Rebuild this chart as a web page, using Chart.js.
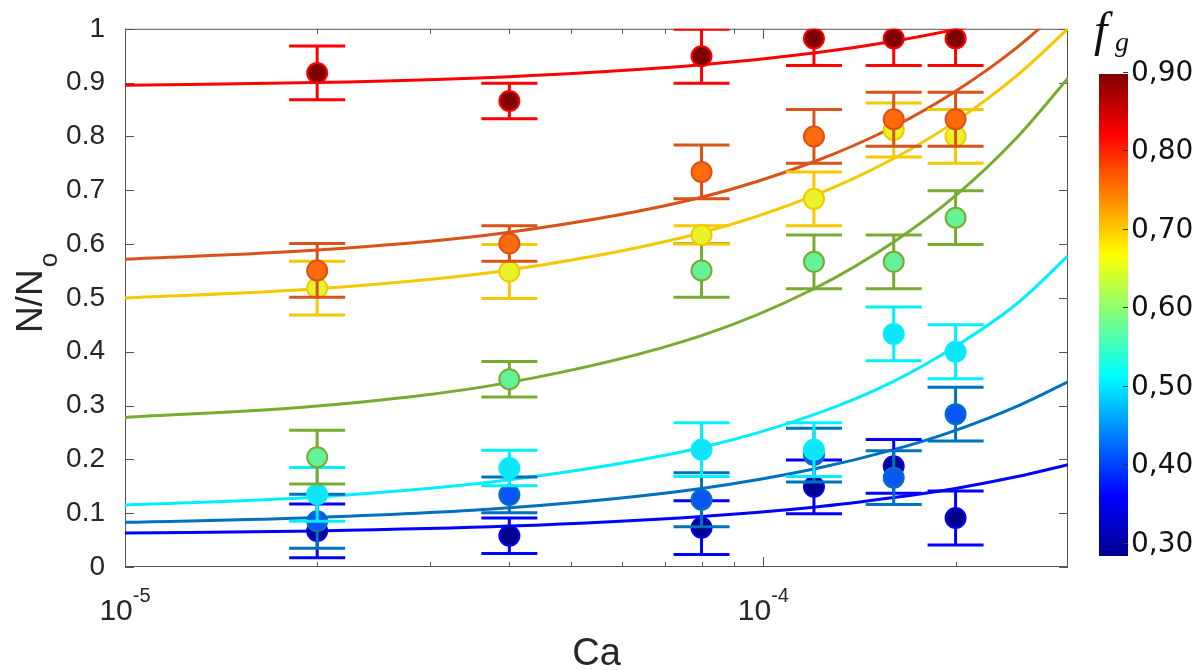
<!DOCTYPE html>
<html>
<head>
<meta charset="utf-8">
<title>N/No vs Ca</title>
<script src="https://cdn.jsdelivr.net/npm/chart.js@4"></script>
<style>
  html, body { margin: 0; padding: 0; background: #fff; }
  #wrap { position: relative; width: 1201px; height: 670px; overflow: hidden; }
  #plot { position: absolute; left: 0; top: 0; width: 1201px; height: 670px; }
  .cbar {
    position: absolute; left: 1099px; top: 74px; width: 29px; height: 482px;
    background: linear-gradient(to top, #00008f 0%, #0000ff 12.5%, #00ffff 37.5%, #ffff00 62.5%, #ff0000 87.5%, #800000 100%);
  }
  .cb-tick { position: absolute; left: 1123px; width: 5px; height: 1px; background: #333; }
  .cb-label {
    position: absolute; left: 1131px; font-family: 'DejaVu Sans', sans-serif;
    font-size: 28px; line-height: 28px; color: #111; transform: translateY(-50%);
  }
  .fg-f { position: absolute; left: 1094px; top: 6px; font-family: 'Liberation Serif', serif;
    font-style: italic; font-size: 48px; line-height: 48px; color: #111; }
  .fg-g { position: absolute; left: 1115px; top: 28px; font-family: 'Liberation Serif', serif;
    font-style: italic; font-size: 28px; line-height: 28px; color: #111; }
  .ytitle {
    position: absolute; left: -70px; top: 271px; width: 200px; height: 44px;
    line-height: 44px; text-align: center; transform: rotate(-90deg);
    font-family: 'Liberation Sans', sans-serif; font-size: 37px; color: #262626;
  }
  .ytitle .sub { font-size: 26px; position: relative; top: 15px; margin-left: 2px; }
</style>
</head>
<body>
<div id="wrap">
  <div id="plot"><canvas id="chart"></canvas></div>
  <div class="ytitle">N/N<span class="sub">o</span></div>
  <div class="cbar"></div>
  <span class="fg-f">f</span><span class="fg-g">g</span>
</div>
<script>
// measured points (capillary number)
const caPoints = [2e-5, 4e-5, 8e-5, 1.2e-4, 1.6e-4, 2e-4];

// N/No for each gas fraction fg, with error half-widths
const nNo90 = [0.918, 0.866, 0.949, 0.982, 0.982, 0.982];
const err90 = [0.05, 0.033, 0.05, 0.05, 0.05, 0.05];
const nNo80 = [0.551, 0.601, 0.734, 0.800, 0.832, 0.832];
const err80 = [0.05, 0.033, 0.05, 0.05, 0.05, 0.05];
const nNo70 = [0.518, 0.549, 0.617, 0.684, 0.812, 0.800];
const err70 = [0.05, 0.05, 0.017, 0.05, 0.05, 0.05];
const nNo60 = [0.204, 0.349, 0.551, 0.567, 0.567, 0.649];
const err60 = [0.05, 0.033, 0.05, 0.05, 0.05, 0.05];
const nNo50 = [0.135, 0.184, 0.218, 0.218, 0.433, 0.400];
const err50 = [0.05, 0.033, 0.05, 0.05, 0.05, 0.05];
const nNo40 = [0.085, 0.134, 0.125, 0.208, 0.166, 0.284];
const err40 = [0.05, 0.033, 0.05, 0.05, 0.05, 0.05];
const nNo30 = [0.067, 0.058, 0.073, 0.149, 0.187, 0.091];
const err30 = [0.05, 0.033, 0.05, 0.05, 0.05, 0.05];

// fitted curves
const fitCa = [1e-5, 2e-5, 4e-5, 8e-5, 1.2e-4, 1.6e-4, 2e-4, 2.5e-4, 3e-4];
const fit90 = [0.895, 0.900, 0.911, 0.933, 0.955, 0.977, 0.999, 1.027, 1.055];
const fit80 = [0.572, 0.589, 0.622, 0.687, 0.753, 0.818, 0.884, 0.966, 1.048];
const fit70 = [0.500, 0.517, 0.552, 0.621, 0.690, 0.759, 0.828, 0.914, 1.000];
const fit60 = [0.278, 0.299, 0.343, 0.430, 0.517, 0.604, 0.690, 0.799, 0.908];
const fit50 = [0.115, 0.130, 0.162, 0.222, 0.283, 0.345, 0.410, 0.490, 0.578];
const fit40 = [0.083, 0.092, 0.110, 0.146, 0.182, 0.218, 0.254, 0.299, 0.344];
const fit30 = [0.063, 0.067, 0.076, 0.094, 0.111, 0.129, 0.146, 0.168, 0.190];

// axis ticks
const xTickValues = [1e-5, 1e-4];
const xTickLabels = [['10', '-5'], ['10', '-4']];
const xMinorTicks = [2e-5, 3e-5, 4e-5, 5e-5, 6e-5, 7e-5, 8e-5, 9e-5, 2e-4];
const yTickValues = [0, 0.1, 0.2, 0.3, 0.4, 0.5, 0.6, 0.7, 0.8, 0.9, 1];
const yTickLabels = ['0', '0.1', '0.2', '0.3', '0.4', '0.5', '0.6', '0.7', '0.8', '0.9', '1'];

// colorbar
const cbTicks = [0.3, 0.4, 0.5, 0.6, 0.7, 0.8, 0.9];
const cbMin = 0.283, cbMax = 0.897;

const series = [
  { values: nNo90, errors: err90, fit: fit90, line: '#ff0000', marker: '#800000' },
  { values: nNo80, errors: err80, fit: fit80, line: '#d95319', marker: '#ff6a0a' },
  { values: nNo70, errors: err70, fit: fit70, line: '#f5c800', marker: '#e6f52a' },
  { values: nNo60, errors: err60, fit: fit60, line: '#77ac30', marker: '#66f29a' },
  { values: nNo50, errors: err50, fit: fit50, line: '#00f0ff', marker: '#10e4f8' },
  { values: nNo40, errors: err40, fit: fit40, line: '#0072bd', marker: '#0a55f5' },
  { values: nNo30, errors: err30, fit: fit30, line: '#0000ff', marker: '#00008c' }
];

const axisColor = '#262626';
const fontFamily = "'Liberation Sans', 'DejaVu Sans', sans-serif";

const datasets = [];
series.forEach((s, i) => {
  datasets.push({
    type: 'scatter',
    data: caPoints.map((c, j) => ({ x: c, y: s.values[j] })),
    errors: s.errors,
    borderColor: s.line,
    pointRadius: 10,
    pointBorderWidth: 2,
    pointBackgroundColor: s.marker,
    pointBorderColor: s.line,
    order: i + 1
  });
  datasets.push({
    type: 'line',
    data: fitCa.map((c, j) => ({ x: c, y: s.fit[j] })),
    borderColor: s.line,
    borderWidth: 3,
    pointRadius: 0,
    fill: false,
    cubicInterpolationMode: 'monotone',
    order: 100 + i
  });
});

// error bars, drawn just before each scatter set
const errorBars = {
  id: 'errorBars',
  beforeDatasetDraw(chart, args) {
    const ds = chart.data.datasets[args.index];
    if (!ds.errors) return;
    const { ctx, chartArea: a, scales: { x, y } } = chart;
    ctx.save();
    ctx.beginPath();
    ctx.rect(a.left, a.top, a.right - a.left, a.bottom - a.top);
    ctx.clip();
    ctx.strokeStyle = ds.borderColor;
    ctx.lineWidth = 3;
    ds.data.forEach((p, i) => {
      const px = x.getPixelForValue(p.x);
      const top = y.getPixelForValue(p.y + ds.errors[i]);
      const bot = y.getPixelForValue(p.y - ds.errors[i]);
      ctx.beginPath();
      ctx.moveTo(px, top); ctx.lineTo(px, bot);
      ctx.moveTo(px - 28, top); ctx.lineTo(px + 28, top);
      ctx.moveTo(px - 28, bot); ctx.lineTo(px + 28, bot);
      ctx.stroke();
    });
    ctx.restore();
  }
};

// box with inward ticks on all four sides
const axesBox = {
  id: 'axesBox',
  beforeDatasetsDraw(chart) {
    const { ctx, chartArea: a, scales: { x, y } } = chart;
    ctx.save();
    ctx.strokeStyle = '#555';
    ctx.lineWidth = 1;
    ctx.strokeRect(a.left + 0.5, a.top + 0.5, a.right - a.left - 1, a.bottom - a.top - 1);
    ctx.beginPath();
    const xt = (v, len) => {
      const px = Math.round(x.getPixelForValue(v)) + 0.5;
      ctx.moveTo(px, a.bottom); ctx.lineTo(px, a.bottom - len);
      ctx.moveTo(px, a.top); ctx.lineTo(px, a.top + len);
    };
    xTickValues.forEach(v => xt(v, 10));
    xMinorTicks.forEach(v => xt(v, 5));
    yTickValues.forEach(v => {
      const py = Math.round(y.getPixelForValue(v)) + 0.5;
      ctx.moveTo(a.left, py); ctx.lineTo(a.left + 9, py);
      ctx.moveTo(a.right, py); ctx.lineTo(a.right - 9, py);
    });
    ctx.stroke();
    ctx.restore();
  },
  // power-of-ten labels with a raised exponent
  afterDraw(chart) {
    const { ctx, chartArea: a, scales: { x } } = chart;
    ctx.save();
    ctx.fillStyle = axisColor;
    ctx.textBaseline = 'alphabetic';
    ctx.textAlign = 'left';
    xTickValues.forEach((v, i) => {
      const [base, exp] = xTickLabels[i];
      ctx.font = '30px ' + fontFamily;
      const wb = ctx.measureText(base).width;
      ctx.font = '20px ' + fontFamily;
      const we = ctx.measureText(exp).width;
      const left = x.getPixelForValue(v) - (wb + we) / 2;
      ctx.font = '30px ' + fontFamily;
      ctx.fillText(base, left, a.bottom + 53);
      ctx.font = '20px ' + fontFamily;
      ctx.fillText(exp, left + wb, a.bottom + 35);
    });
    ctx.restore();
  }
};

new Chart(document.getElementById('chart'), {
  type: 'scatter',
  data: { datasets: datasets },
  options: {
    responsive: true,
    maintainAspectRatio: false,
    animation: false,
    devicePixelRatio: 1,
    layout: { padding: { left: 0, right: 133, top: 20, bottom: 0 } },
    plugins: { legend: { display: false }, tooltip: { enabled: false } },
    scales: {
      x: {
        type: 'logarithmic',
        min: 1e-5,
        max: 3e-4,
        grid: { display: false },
        border: { display: false },
        afterBuildTicks(scale) { scale.ticks = xTickValues.map(v => ({ value: v, major: true })); },
        afterFit(scale) { scale.height = 103; },
        ticks: { display: false },
        title: {
          display: true,
          text: 'Ca',
          color: axisColor,
          font: { family: fontFamily, size: 38, lineHeight: 0.8 },
          padding: { top: 0, bottom: 0 }
        }
      },
      y: {
        type: 'linear',
        min: 0,
        max: 1,
        grid: { display: false },
        border: { display: false },
        afterBuildTicks(scale) { scale.ticks = yTickValues.map(v => ({ value: v })); },
        afterFit(scale) { scale.width = 125; },
        ticks: {
          padding: 12,
          color: axisColor,
          font: { family: fontFamily, size: 28 },
          callback: (v, i) => yTickLabels[i]
        }
      }
    }
  },
  plugins: [axesBox, errorBars]
});

// colorbar ticks and labels
const wrap = document.getElementById('wrap');
const cbTop = 74, cbHeight = 482;
cbTicks.forEach(v => {
  const py = cbTop + (cbMax - v) / (cbMax - cbMin) * cbHeight;
  const tick = document.createElement('div');
  tick.className = 'cb-tick';
  tick.style.top = Math.round(py) + 'px';
  wrap.appendChild(tick);
  const label = document.createElement('div');
  label.className = 'cb-label';
  label.style.top = py + 'px';
  label.textContent = v.toFixed(2).replace('.', ',');
  wrap.appendChild(label);
});
</script>
</body>
</html>
